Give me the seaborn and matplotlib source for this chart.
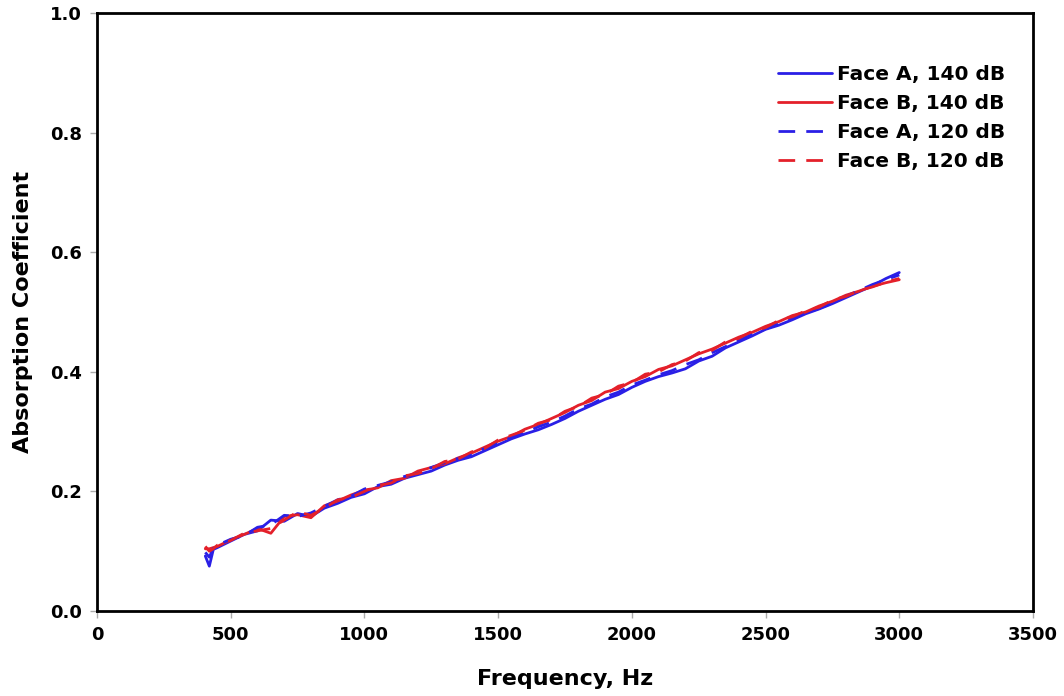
import matplotlib
matplotlib.use("Agg")
import matplotlib.pyplot as plt
import seaborn as sns
import pandas as pd

# Measurement frequencies (Hz)
freq = [405, 420, 435, 450, 500, 550, 600, 650, 700, 750, 800, 850, 900, 950,
        1000, 1050, 1100, 1150, 1200, 1250, 1300, 1350, 1400, 1450, 1500, 1550,
        1600, 1650, 1700, 1750, 1800, 1850, 1900, 1950, 2000, 2050, 2100, 2150,
        2200, 2250, 2300, 2350, 2400, 2450, 2500, 2550, 2600, 2650, 2700, 2750,
        2800, 2850, 2900, 2950, 3000]

face_a_140 = [0.092, 0.075, 0.103, 0.106, 0.117, 0.128, 0.134, 0.152, 0.150, 0.163,
              0.158, 0.172, 0.180, 0.190, 0.196, 0.208, 0.212, 0.222, 0.228, 0.234,
              0.244, 0.252, 0.258, 0.268, 0.278, 0.288, 0.296, 0.303, 0.312, 0.322,
              0.334, 0.344, 0.354, 0.362, 0.374, 0.384, 0.392, 0.398, 0.405, 0.418,
              0.426, 0.440, 0.450, 0.460, 0.471, 0.478, 0.487, 0.497, 0.505, 0.514,
              0.524, 0.534, 0.544, 0.556, 0.566]

face_b_140 = [0.104, 0.104, 0.106, 0.108, 0.119, 0.128, 0.138, 0.130, 0.158, 0.161,
              0.156, 0.176, 0.184, 0.194, 0.202, 0.206, 0.218, 0.222, 0.234, 0.240,
              0.246, 0.256, 0.264, 0.274, 0.284, 0.292, 0.304, 0.312, 0.322, 0.332,
              0.344, 0.352, 0.366, 0.372, 0.384, 0.392, 0.404, 0.410, 0.420, 0.430,
              0.438, 0.448, 0.458, 0.466, 0.476, 0.484, 0.494, 0.500, 0.510, 0.518,
              0.528, 0.535, 0.543, 0.549, 0.554]

face_a_120 = [0.098, 0.090, 0.105, 0.110, 0.120, 0.126, 0.140, 0.144, 0.160, 0.158,
              0.164, 0.175, 0.186, 0.192, 0.204, 0.210, 0.216, 0.225, 0.230, 0.240,
              0.248, 0.255, 0.262, 0.272, 0.281, 0.290, 0.298, 0.308, 0.316, 0.326,
              0.338, 0.346, 0.358, 0.366, 0.378, 0.386, 0.395, 0.402, 0.412, 0.420,
              0.432, 0.442, 0.453, 0.462, 0.472, 0.480, 0.490, 0.498, 0.506, 0.515,
              0.526, 0.536, 0.546, 0.554, 0.562]

face_b_120 = [0.108, 0.100, 0.104, 0.110, 0.118, 0.130, 0.134, 0.138, 0.152, 0.166,
              0.160, 0.172, 0.186, 0.190, 0.200, 0.210, 0.214, 0.226, 0.230, 0.238,
              0.250, 0.254, 0.266, 0.272, 0.286, 0.294, 0.302, 0.314, 0.320, 0.334,
              0.342, 0.356, 0.362, 0.376, 0.382, 0.396, 0.400, 0.412, 0.418, 0.432,
              0.436, 0.450, 0.456, 0.468, 0.474, 0.486, 0.492, 0.502, 0.508, 0.520,
              0.526, 0.536, 0.542, 0.550, 0.556]

series_labels = ["Face A, 140 dB", "Face B, 140 dB", "Face A, 120 dB", "Face B, 120 dB"]
x_ticks = [0, 500, 1000, 1500, 2000, 2500, 3000, 3500]
y_ticks = [0.0, 0.2, 0.4, 0.6, 0.8, 1.0]

blue = "#2a1fe6"
red = "#e4202a"

sns.set_style("white")
plt.rcParams["font.family"] = ["DejaVu Sans"]
plt.rcParams["font.weight"] = "bold"
plt.rcParams["text.color"] = "black"
plt.rcParams["axes.labelcolor"] = "black"

fig = plt.figure(figsize=(10.64, 6.96), dpi=100)
ax = fig.add_axes([97 / 1064, 1 - 611 / 696, (1033 - 97) / 1064, (611 - 13) / 696])

styles = [
    (face_a_140, blue, "-"),
    (face_b_140, red, "-"),
    (face_a_120, blue, (0, (6, 4))),
    (face_b_120, red, (0, (6, 4))),
]
for (vals, color, ls), label in zip(styles, series_labels):
    df = pd.DataFrame({"Frequency": freq, "Absorption": vals})
    sns.lineplot(data=df, x="Frequency", y="Absorption", ax=ax, color=color,
                 linestyle=ls, linewidth=2.0, label=label)

ax.set_xlim(0, 3500)
ax.set_ylim(0, 1.0)
ax.set_xticks(x_ticks)
ax.set_yticks(y_ticks)
ax.set_xticklabels([str(t) for t in x_ticks], fontsize=13, fontweight="bold")
ax.set_yticklabels([f"{t:.1f}" for t in y_ticks], fontsize=13, fontweight="bold")
ax.tick_params(axis="both", direction="out", length=5, width=1, color="#aaaaaa",
               labelcolor="black", pad=6, bottom=True, left=True)
ax.set_xlabel("Frequency, Hz", fontsize=16, fontweight="bold", labelpad=18)
ax.set_ylabel("Absorption Coefficient", fontsize=16, fontweight="bold", labelpad=12)

for sp in ax.spines.values():
    sp.set_visible(True)
    sp.set_color("black")
    sp.set_linewidth(2)

leg = ax.legend(loc="upper right", bbox_to_anchor=(0.99, 0.944), frameon=False,
                handlelength=2.7, handletextpad=0.25, labelspacing=0.51,
                prop={"weight": "bold", "size": 14.5})
for txt in leg.get_texts():
    txt.set_color("black")

fig.savefig("out.png", dpi=100, facecolor="white")
